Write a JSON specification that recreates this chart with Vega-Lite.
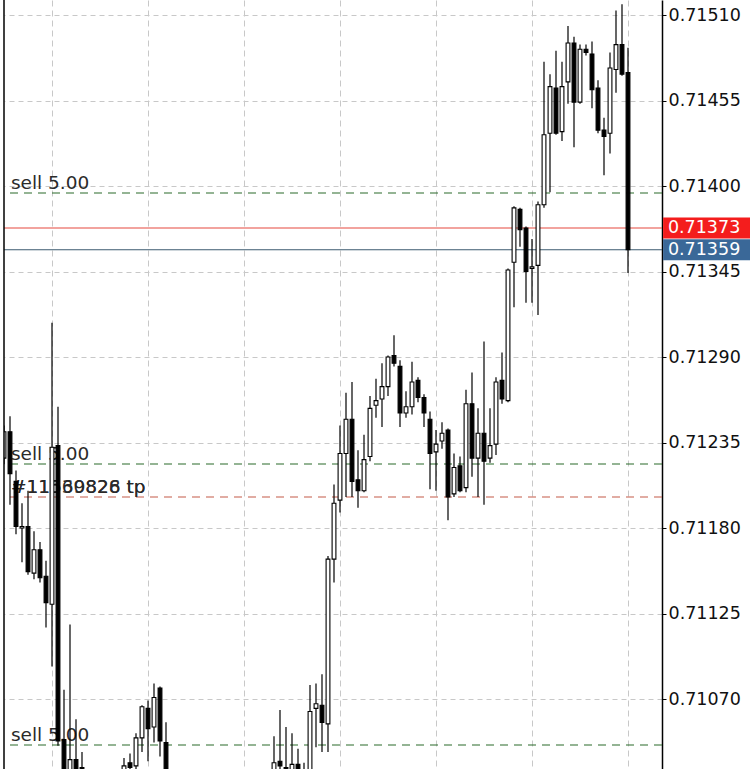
{
  "$schema": "https://vega.github.io/schema/vega-lite/v6.json",
  "width": 658,
  "height": 769,
  "autosize": {"type": "none"},
  "padding": {"left": 4, "top": 0, "right": 88, "bottom": 0},
  "background": "white",
  "config": {"view": {"stroke": null}},
  "datasets": {
    "candles": [
      {"i": -1, "o": 0.71225, "h": 0.71246, "l": 0.71221, "c": 0.71242},
      {"i": 0, "o": 0.71242, "h": 0.71252, "l": 0.71195, "c": 0.71215},
      {"i": 1, "o": 0.71210, "h": 0.71217, "l": 0.71176, "c": 0.71181},
      {"i": 2, "o": 0.71180, "h": 0.71196, "l": 0.71158, "c": 0.71181},
      {"i": 3, "o": 0.71181, "h": 0.71204, "l": 0.71150, "c": 0.71152},
      {"i": 4, "o": 0.71151, "h": 0.71178, "l": 0.71147, "c": 0.71166},
      {"i": 5, "o": 0.71166, "h": 0.71171, "l": 0.71145, "c": 0.71148},
      {"i": 6, "o": 0.71149, "h": 0.71159, "l": 0.71116, "c": 0.71132},
      {"i": 7, "o": 0.71131, "h": 0.71312, "l": 0.71091, "c": 0.71232},
      {"i": 8, "o": 0.71233, "h": 0.71258, "l": 0.71040, "c": 0.71043},
      {"i": 9, "o": 0.71044, "h": 0.71076, "l": 0.70995, "c": 0.71005},
      {"i": 10, "o": 0.71008, "h": 0.71118, "l": 0.71000, "c": 0.71031},
      {"i": 11, "o": 0.71031, "h": 0.71057, "l": 0.71000, "c": 0.71010},
      {"i": 12, "o": 0.71026, "h": 0.71036, "l": 0.71005, "c": 0.71012},
      {"i": 19, "o": 0.71015, "h": 0.71032, "l": 0.71010, "c": 0.71027},
      {"i": 20, "o": 0.71029, "h": 0.71035, "l": 0.71015, "c": 0.71026},
      {"i": 21, "o": 0.71027, "h": 0.71048, "l": 0.71018, "c": 0.71045},
      {"i": 22, "o": 0.71045, "h": 0.71066, "l": 0.71036, "c": 0.71065},
      {"i": 23, "o": 0.71064, "h": 0.71069, "l": 0.71030, "c": 0.71051},
      {"i": 24, "o": 0.71052, "h": 0.71080, "l": 0.71042, "c": 0.71071},
      {"i": 25, "o": 0.71077, "h": 0.71078, "l": 0.71033, "c": 0.71043},
      {"i": 26, "o": 0.71042, "h": 0.71055, "l": 0.71000, "c": 0.71010},
      {"i": 44, "o": 0.71012, "h": 0.71046, "l": 0.71005, "c": 0.71029},
      {"i": 45, "o": 0.71030, "h": 0.71063, "l": 0.71015, "c": 0.71027},
      {"i": 46, "o": 0.71026, "h": 0.71052, "l": 0.71008, "c": 0.71015},
      {"i": 47, "o": 0.71016, "h": 0.71048, "l": 0.71010, "c": 0.71028},
      {"i": 48, "o": 0.71028, "h": 0.71038, "l": 0.71012, "c": 0.71018},
      {"i": 49, "o": 0.71024, "h": 0.71029, "l": 0.71012, "c": 0.71018},
      {"i": 50, "o": 0.71020, "h": 0.71079, "l": 0.71015, "c": 0.71062},
      {"i": 51, "o": 0.71064, "h": 0.71080, "l": 0.71039, "c": 0.71067},
      {"i": 52, "o": 0.71066, "h": 0.71086, "l": 0.71036, "c": 0.71055},
      {"i": 53, "o": 0.71054, "h": 0.71162, "l": 0.71036, "c": 0.71160},
      {"i": 54, "o": 0.71160, "h": 0.71208, "l": 0.71145, "c": 0.71196},
      {"i": 55, "o": 0.71198, "h": 0.71246, "l": 0.71190, "c": 0.71228},
      {"i": 56, "o": 0.71228, "h": 0.71267, "l": 0.71200, "c": 0.71250},
      {"i": 57, "o": 0.71250, "h": 0.71274, "l": 0.71200, "c": 0.71210},
      {"i": 58, "o": 0.71211, "h": 0.71230, "l": 0.71193, "c": 0.71204},
      {"i": 59, "o": 0.71204, "h": 0.71240, "l": 0.71203, "c": 0.71224},
      {"i": 60, "o": 0.71226, "h": 0.71265, "l": 0.71223, "c": 0.71257},
      {"i": 61, "o": 0.71259, "h": 0.71276, "l": 0.71251, "c": 0.71262},
      {"i": 62, "o": 0.71263, "h": 0.71286, "l": 0.71245, "c": 0.71271},
      {"i": 63, "o": 0.71271, "h": 0.71291, "l": 0.71265, "c": 0.71290},
      {"i": 64, "o": 0.71291, "h": 0.71304, "l": 0.71284, "c": 0.71286},
      {"i": 65, "o": 0.71284, "h": 0.71288, "l": 0.71245, "c": 0.71254},
      {"i": 66, "o": 0.71254, "h": 0.71268, "l": 0.71251, "c": 0.71258},
      {"i": 67, "o": 0.71258, "h": 0.71287, "l": 0.71253, "c": 0.71274},
      {"i": 68, "o": 0.71275, "h": 0.71277, "l": 0.71261, "c": 0.71264},
      {"i": 69, "o": 0.71264, "h": 0.71266, "l": 0.71245, "c": 0.71254},
      {"i": 70, "o": 0.71250, "h": 0.71255, "l": 0.71205, "c": 0.71228},
      {"i": 71, "o": 0.71229, "h": 0.71243, "l": 0.71204, "c": 0.71234},
      {"i": 72, "o": 0.71236, "h": 0.71248, "l": 0.71231, "c": 0.71241},
      {"i": 73, "o": 0.71243, "h": 0.71244, "l": 0.71185, "c": 0.71200},
      {"i": 74, "o": 0.71202, "h": 0.71228, "l": 0.71200, "c": 0.71219},
      {"i": 75, "o": 0.71220, "h": 0.71226, "l": 0.71203, "c": 0.71204},
      {"i": 76, "o": 0.71206, "h": 0.71269, "l": 0.71203, "c": 0.71260},
      {"i": 77, "o": 0.71260, "h": 0.71280, "l": 0.71213, "c": 0.71225},
      {"i": 78, "o": 0.71225, "h": 0.71257, "l": 0.71200, "c": 0.71241},
      {"i": 79, "o": 0.71241, "h": 0.71300, "l": 0.71195, "c": 0.71223},
      {"i": 80, "o": 0.71225, "h": 0.71257, "l": 0.71222, "c": 0.71233},
      {"i": 81, "o": 0.71234, "h": 0.71277, "l": 0.71227, "c": 0.71274},
      {"i": 82, "o": 0.71275, "h": 0.71293, "l": 0.71260, "c": 0.71263},
      {"i": 83, "o": 0.71262, "h": 0.71347, "l": 0.71261, "c": 0.71346},
      {"i": 84, "o": 0.71351, "h": 0.71387, "l": 0.71322, "c": 0.71386},
      {"i": 85, "o": 0.71385, "h": 0.71386, "l": 0.71361, "c": 0.71372},
      {"i": 86, "o": 0.71373, "h": 0.71374, "l": 0.71325, "c": 0.71345},
      {"i": 87, "o": 0.71347, "h": 0.71366, "l": 0.71325, "c": 0.71348},
      {"i": 88, "o": 0.71349, "h": 0.71390, "l": 0.71317, "c": 0.71388},
      {"i": 89, "o": 0.71388, "h": 0.71480, "l": 0.71386, "c": 0.71433},
      {"i": 90, "o": 0.71434, "h": 0.71472, "l": 0.71396, "c": 0.71464},
      {"i": 91, "o": 0.71463, "h": 0.71487, "l": 0.71433, "c": 0.71434},
      {"i": 92, "o": 0.71435, "h": 0.71480, "l": 0.71429, "c": 0.71464},
      {"i": 93, "o": 0.71467, "h": 0.71503, "l": 0.71453, "c": 0.71492},
      {"i": 94, "o": 0.71492, "h": 0.71496, "l": 0.71425, "c": 0.71454},
      {"i": 95, "o": 0.71454, "h": 0.71491, "l": 0.71453, "c": 0.71488},
      {"i": 96, "o": 0.71488, "h": 0.71491, "l": 0.71484, "c": 0.71486},
      {"i": 97, "o": 0.71485, "h": 0.71493, "l": 0.71450, "c": 0.71462},
      {"i": 98, "o": 0.71463, "h": 0.71468, "l": 0.71434, "c": 0.71436},
      {"i": 99, "o": 0.71436, "h": 0.71444, "l": 0.71407, "c": 0.71432},
      {"i": 100, "o": 0.71434, "h": 0.71486, "l": 0.71421, "c": 0.71476},
      {"i": 101, "o": 0.71475, "h": 0.71513, "l": 0.71460, "c": 0.71491},
      {"i": 102, "o": 0.71491, "h": 0.71517, "l": 0.71471, "c": 0.71472},
      {"i": 103, "o": 0.71473, "h": 0.71489, "l": 0.71344, "c": 0.71359}
    ],
    "levels": [
      {"p": 0.713955, "kind": "sell"},
      {"p": 0.712212, "kind": "sell"},
      {"p": 0.710404, "kind": "sell"},
      {"p": 0.712, "kind": "tp"},
      {"p": 0.71373, "kind": "ask"},
      {"p": 0.71359, "kind": "bid"}
    ],
    "notes": [
      {"p": 0.713955, "t": "sell 5.00"},
      {"p": 0.712212, "t": "sell 5.00"},
      {"p": 0.710404, "t": "sell 5.00"},
      {"p": 0.712, "t": "#11539826 tp"},
      {"p": 0.712, "t": "#11560828 tp"}
    ],
    "tags": [
      {"p": 0.71373, "t": "0.71373", "kind": "ask"},
      {"p": 0.71359, "t": "0.71359", "kind": "bid"}
    ]
  },
  "layer": [
    {
      "data": {"name": "levels"},
      "mark": {"type": "rule", "strokeWidth": 1.1, "clip": true},
      "encoding": {
        "y": {"field": "p", "type": "quantitative", "title": null,
              "scale": {"domain": [0.710250, 0.715197], "nice": false, "zero": false, "padding": 0},
              "axis": {"orient": "right", "values": [0.7107, 0.71125, 0.7118, 0.71235, 0.7129, 0.71345, 0.714, 0.71455, 0.7151],
                       "format": ".5f", "grid": true, "gridDash": [5, 4], "gridColor": "#c8c8c8", "gridWidth": 1,
                       "domainColor": "#000000", "domainWidth": 1.5, "tickColor": "#000000", "tickSize": 4, "tickWidth": 1,
                       "labelFont": "DejaVu Sans", "labelFontSize": 17.5, "labelColor": "#111111", "labelPadding": 2,
                       "labelBaseline": "middle", "labelOverlap": false, "labelFlush": false}},
        "color": {"field": "kind", "type": "nominal", "legend": null,
                  "scale": {"domain": ["sell", "tp", "ask", "bid"], "range": ["#2a6a2a", "#c45a48", "#e5483e", "#3d5b70"]}},
        "strokeDash": {"field": "kind", "type": "nominal", "legend": null,
                  "scale": {"domain": ["sell", "tp", "ask", "bid"], "range": [[8, 6], [8, 6], [1, 0], [1, 0]]}}
      }
    },
    {
      "data": {"name": "notes"},
      "mark": {"type": "text", "align": "left", "baseline": "alphabetic", "dy": -4, "font": "DejaVu Sans", "fontSize": 18.5, "color": "#2a2a2a"},
      "encoding": {
        "x": {"datum": 0.15, "type": "quantitative",
              "scale": {"domain": [-1, 108.6667], "nice": false, "zero": false, "padding": 0},
              "axis": {"orient": "bottom", "values": [7, 23, 39, 55, 71, 87, 103], "labels": false, "ticks": false, "domain": false, "title": null,
                       "grid": true, "gridDash": [6, 4], "gridColor": "#c8c8c8", "gridWidth": 1}},
        "y": {"field": "p", "type": "quantitative", "title": null, "scale": {"domain": [0.710250, 0.715197], "nice": false, "zero": false, "padding": 0}},
        "text": {"field": "t"}
      }
    },
    {
      "data": {"name": "candles"},
      "mark": {"type": "rule", "color": "#000000", "strokeWidth": 1.2, "clip": true},
      "encoding": {
        "x": {"field": "i", "type": "quantitative", "title": null, "scale": {"domain": [-1, 108.6667], "nice": false, "zero": false, "padding": 0}},
        "y": {"field": "l", "type": "quantitative", "title": null, "scale": {"domain": [0.710250, 0.715197], "nice": false, "zero": false, "padding": 0}},
        "y2": {"field": "h"}
      }
    },
    {
      "data": {"name": "candles"},
      "mark": {"type": "bar", "width": 3.8, "stroke": "#000000", "strokeWidth": 1.1, "clip": true, "orient": "vertical"},
      "encoding": {
        "x": {"field": "i", "type": "quantitative", "title": null, "scale": {"domain": [-1, 108.6667], "nice": false, "zero": false, "padding": 0}},
        "y": {"field": "o", "type": "quantitative", "title": null, "scale": {"domain": [0.710250, 0.715197], "nice": false, "zero": false, "padding": 0}},
        "y2": {"field": "c"},
        "fill": {"condition": {"test": "datum.c >= datum.o", "value": "#ffffff"}, "value": "#000000"}
      }
    },
    {
      "data": {"values": [{"k": 1}]},
      "mark": {"type": "rule", "color": "#000000", "strokeWidth": 1.5},
      "encoding": {
        "x": {"datum": -1, "type": "quantitative", "scale": {"domain": [-1, 108.6667], "nice": false, "zero": false, "padding": 0}}
      }
    },
    {
      "data": {"name": "tags"},
      "mark": {"type": "bar", "height": 21, "orient": "horizontal", "clip": false},
      "encoding": {
        "x": {"datum": 108.85, "type": "quantitative", "scale": {"domain": [-1, 108.6667], "nice": false, "zero": false, "padding": 0}},
        "x2": {"datum": 123.5},
        "y": {"field": "p", "type": "quantitative", "title": null, "scale": {"domain": [0.710250, 0.715197], "nice": false, "zero": false, "padding": 0}},
        "fill": {"field": "kind", "type": "nominal", "legend": null, "scale": {"domain": ["ask", "bid"], "range": ["#f41d1d", "#3a6898"]}}
      }
    },
    {
      "data": {"name": "tags"},
      "mark": {"type": "text", "align": "left", "baseline": "middle", "font": "DejaVu Sans", "fontSize": 17.5, "color": "#ffffff", "clip": false},
      "encoding": {
        "x": {"datum": 109.65, "type": "quantitative", "scale": {"domain": [-1, 108.6667], "nice": false, "zero": false, "padding": 0}},
        "y": {"field": "p", "type": "quantitative", "title": null, "scale": {"domain": [0.710250, 0.715197], "nice": false, "zero": false, "padding": 0}},
        "text": {"field": "t"}
      }
    }
  ]
}
